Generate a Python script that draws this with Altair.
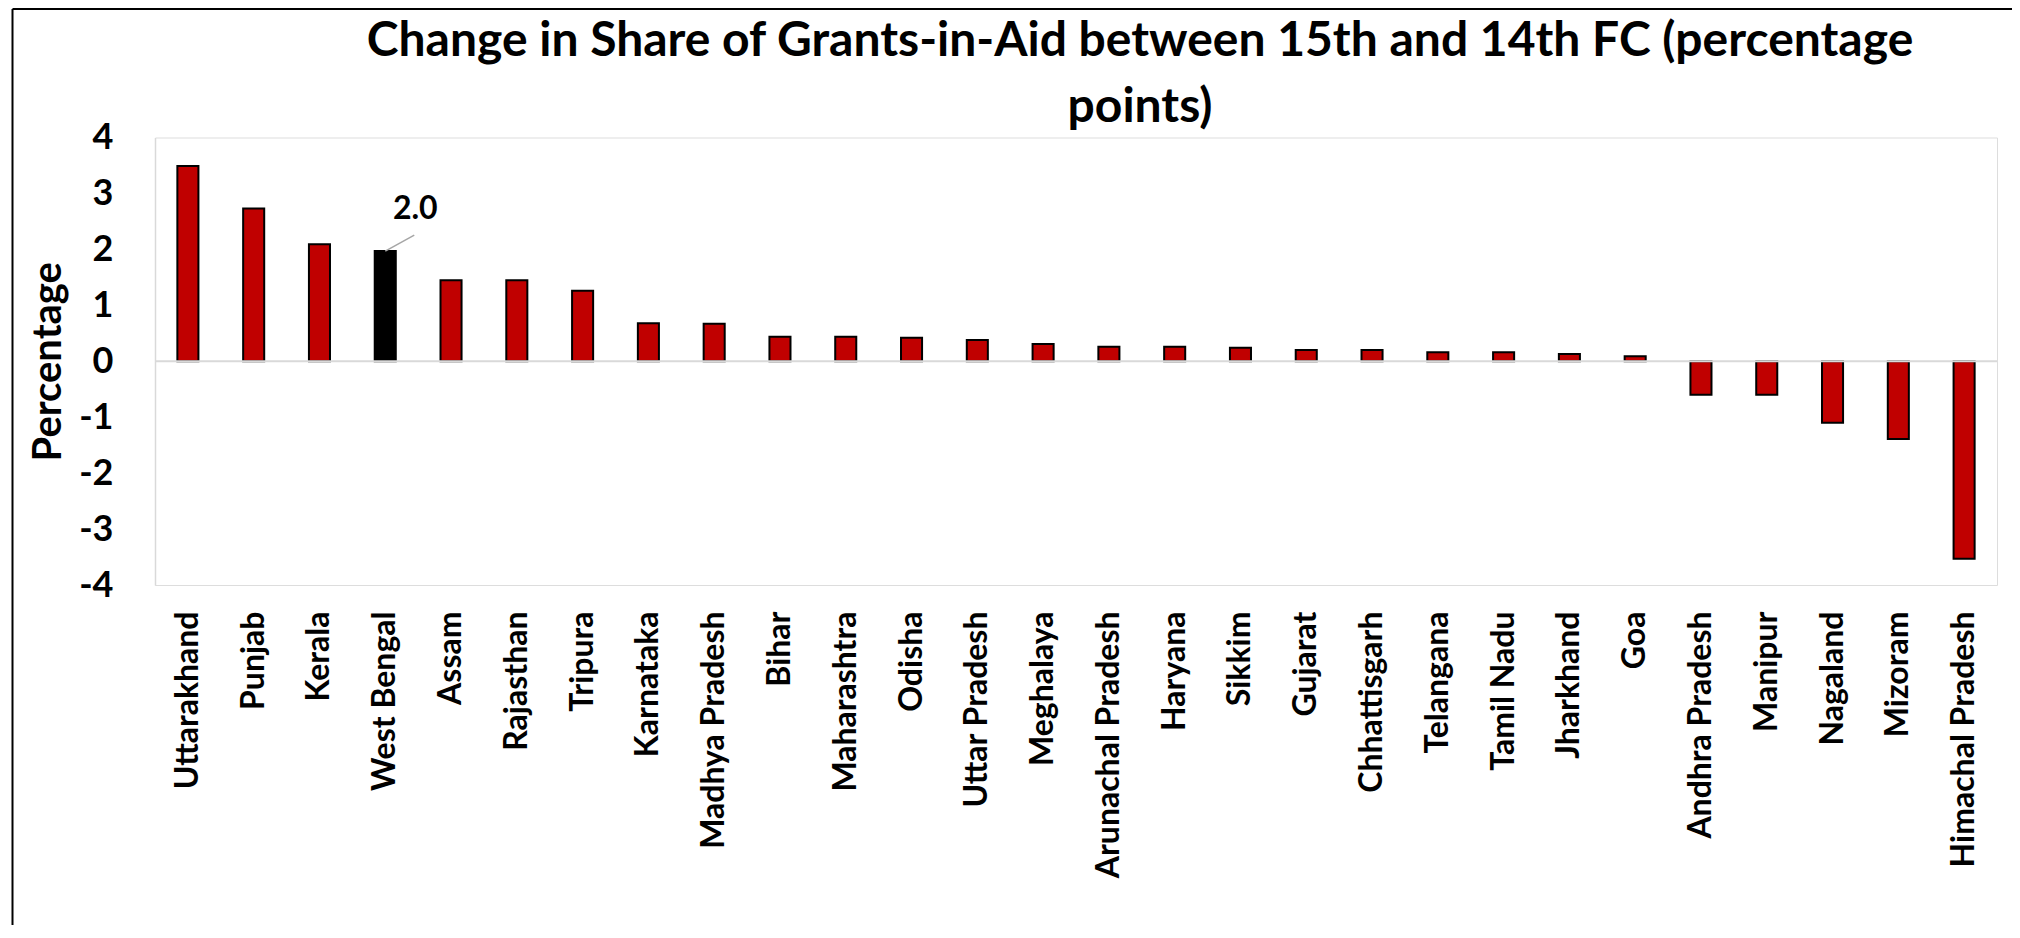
import altair as alt
import pandas as pd

states = [
    "Uttarakhand", "Punjab", "Kerala", "West Bengal", "Assam", "Rajasthan",
    "Tripura", "Karnataka", "Madhya Pradesh", "Bihar", "Maharashtra", "Odisha",
    "Uttar Pradesh", "Meghalaya", "Arunachal Pradesh", "Haryana", "Sikkim",
    "Gujarat", "Chhattisgarh", "Telangana", "Tamil Nadu", "Jharkhand", "Goa",
    "Andhra Pradesh", "Manipur", "Nagaland", "Mizoram", "Himachal Pradesh",
]
change = [
    3.49, 2.73, 2.09, 1.97, 1.45, 1.45,
    1.26, 0.68, 0.67, 0.44, 0.44, 0.42,
    0.38, 0.31, 0.26, 0.26, 0.24,
    0.20, 0.20, 0.16, 0.16, 0.13, 0.09,
    -0.60, -0.60, -1.10, -1.39, -3.53,
]
y_ticks = [-4, -3, -2, -1, 0, 1, 2, 3, 4]
highlight = "West Bengal"
title_line1 = "Change in Share of Grants-in-Aid between 15th and 14th FC (percentage"
title_line2 = "points)"
y_title = "Percentage"

df = pd.DataFrame({"state": states, "change": change})
zero_df = pd.DataFrame({"zero": [0]})
t1_df = pd.DataFrame({"t": [title_line1]})
t2_df = pd.DataFrame({"t": [title_line2]})
one_df = pd.DataFrame({"k": [0]})

FONT = "Lato"
TITLE_SIZE = 48

x_enc = alt.X(
    "state:N",
    sort=states,
    scale=alt.Scale(paddingInner=0.68, paddingOuter=0.34),
    axis=alt.Axis(
        title=None,
        labelAngle=-90,
        labelFont=FONT,
        labelFontWeight="bold",
        labelFontSize=32,
        labelColor="black",
        labelPadding=26,
        labelLimit=500,
        labelOverlap=False,
        domain=False,
        ticks=False,
        grid=False,
    ),
)
y_enc = alt.Y(
    "change:Q",
    scale=alt.Scale(domain=[-4, 4], nice=False, zero=True),
    axis=alt.Axis(
        title=y_title,
        titleFont=FONT,
        titleFontWeight="bold",
        titleFontSize=40,
        titleColor="black",
        titlePadding=10,
        values=y_ticks,
        labelExpr="'' + datum.value",
        labelFont=FONT,
        labelFontWeight="bold",
        labelFontSize=36,
        labelColor="black",
        labelPadding=42,
        ticks=False,
        grid=False,
        domain=True,
        domainColor="#D9D9D9",
        domainWidth=1.5,
    ),
)

bars = alt.Chart(df).mark_bar(stroke="black", strokeWidth=2).encode(
    x=x_enc,
    y=y_enc,
    color=alt.condition(
        alt.datum.state == highlight, alt.value("#000000"), alt.value("#C00000")
    ),
)

zero_line = alt.Chart(zero_df).mark_rule(color="#D9D9D9", strokeWidth=2).encode(
    y="zero:Q"
)

hl = alt.Chart(df).transform_filter(alt.datum.state == highlight)

leader = hl.mark_rule(
    color="#A6A6A6", strokeWidth=1.5, x2Offset=29, y2Offset=-16
).encode(
    x=alt.X("state:N", sort=states),
    y="change:Q",
    x2=alt.X2("state"),
    y2=alt.Y2("change"),
)

label = hl.mark_text(
    font=FONT, fontWeight="bold", fontSize=32, color="black",
    dx=30, dy=-42, align="center", baseline="middle",
).encode(
    x=alt.X("state:N", sort=states),
    y="change:Q",
    text=alt.Text("change:Q", format=".1f"),
)

title1 = alt.Chart(t1_df).mark_text(
    font=FONT, fontWeight="bold", fontSize=TITLE_SIZE, color="black",
    align="center", baseline="alphabetic",
).encode(x=alt.value(985), y=alt.value(-81.5), text="t:N")
title2 = alt.Chart(t2_df).mark_text(
    font=FONT, fontWeight="bold", fontSize=TITLE_SIZE, color="black",
    align="center", baseline="alphabetic",
).encode(x=alt.value(985), y=alt.value(-15.5), text="t:N")

frame_left = alt.Chart(one_df).mark_rule(color="black", strokeWidth=2).encode(
    x=alt.value(-142.5), y=alt.value(-128.5), y2=alt.value(820)
)
frame_top = alt.Chart(one_df).mark_rule(color="black", strokeWidth=2).encode(
    x=alt.value(-142.5), x2=alt.value(1880), y=alt.value(-128.5)
)

chart = (
    alt.layer(frame_left, frame_top, bars, zero_line, leader, label, title1, title2)
    .properties(
        width=1842,
        height=447.5,
        autosize=alt.AutoSizeParams(type="none"),
        padding={"left": 147, "top": 129.5, "right": 15, "bottom": 340},
    )
    .configure_view(stroke=None)
    .configure(background="white")
)

chart.save("out.html", embed_options={"renderer": "svg", "actions": False})
